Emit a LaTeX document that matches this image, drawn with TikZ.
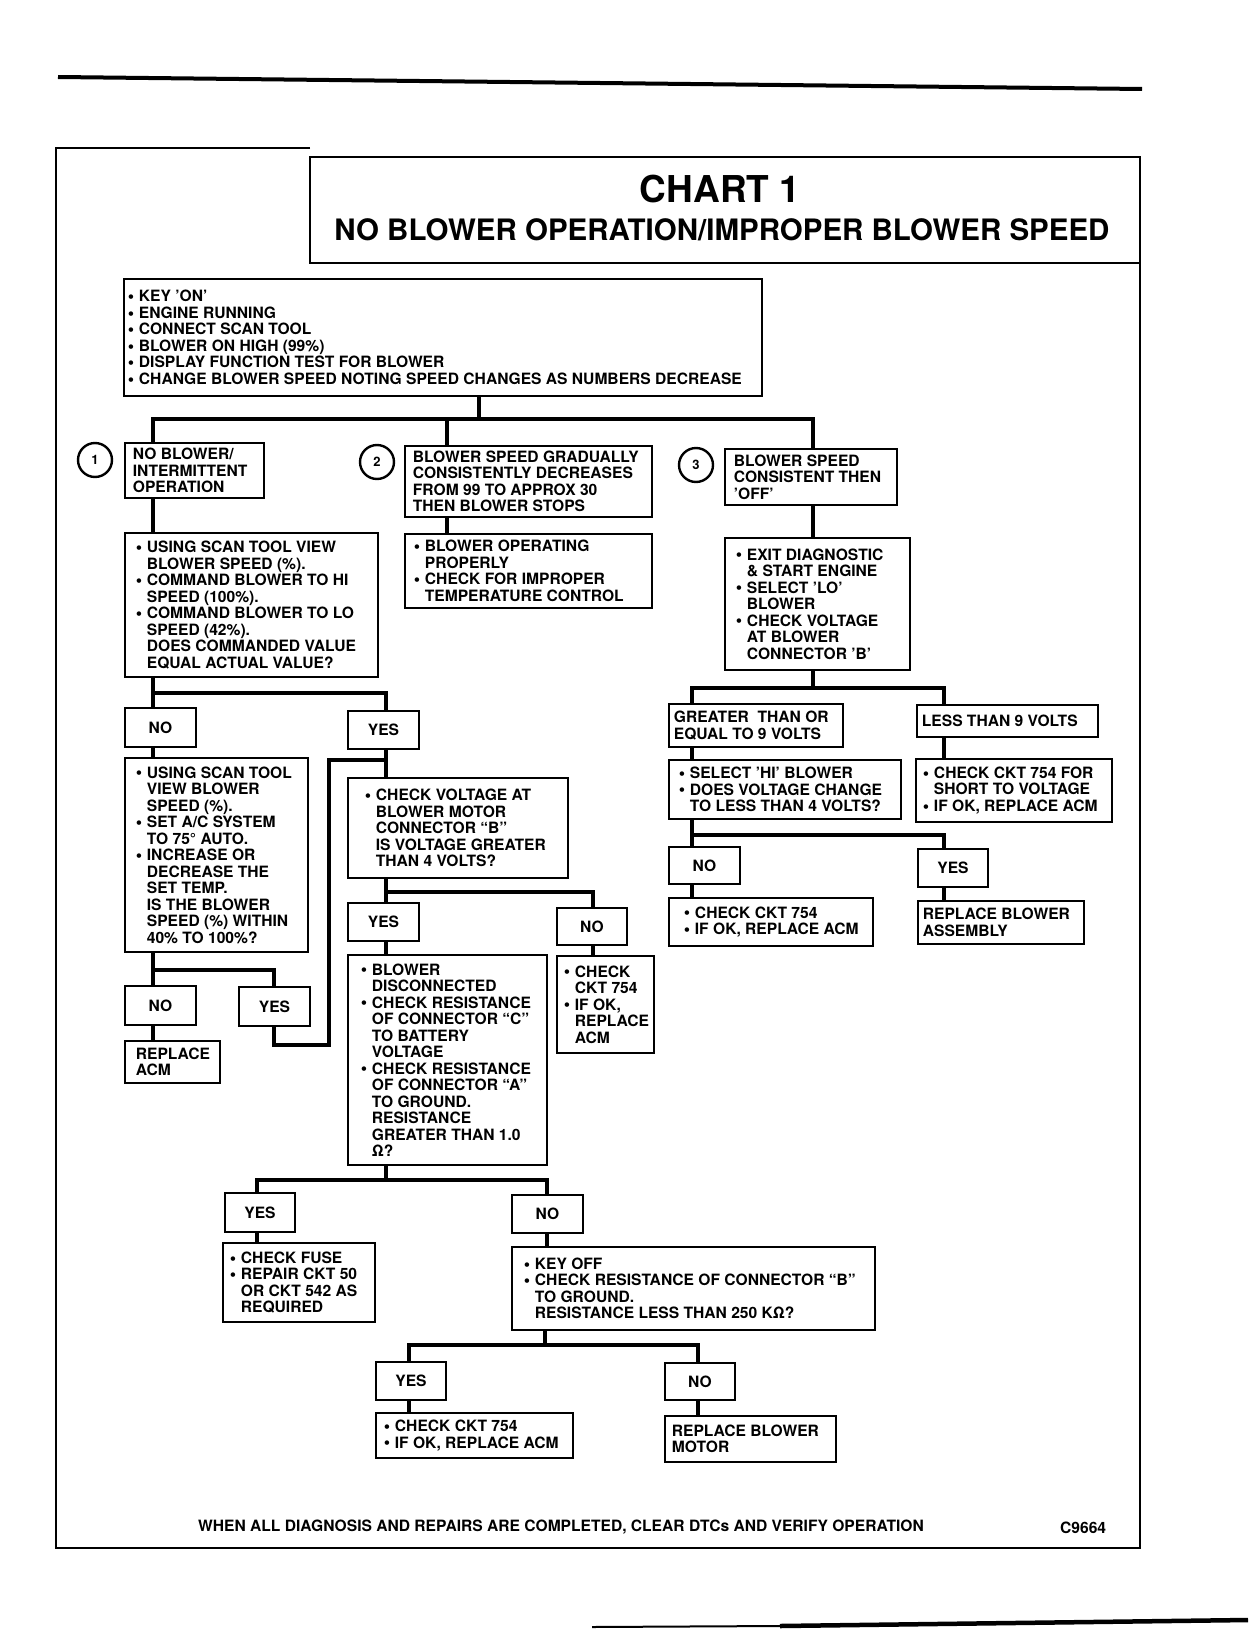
\documentclass[tikz,border=0pt]{standalone}
\usepackage{fontspec}
\setmainfont{TeX Gyre Heros}
\tikzset{
  boxst/.style={draw, line width=2.6pt, inner sep=0pt, rectangle},
  txt/.style={inner sep=0pt, align=left, font=\fontsize{15.6}{16.5}\selectfont\bfseries},
  conn/.style={line width=4.5pt, line join=miter},
  circ/.style={draw, circle, line width=2.4pt, minimum size=34pt, inner sep=0pt, font=\fontsize{13}{13}\selectfont\bfseries},
  frame/.style={line width=2pt},
}
\newcommand\tbox[7]{%
  \node[boxst, minimum width={(#4-#2)*1pt}, minimum height={(#5-#3)*1pt}] (#1) at ({(#2+#4)/2},{(#3+#5)/2}) {};
  \node[txt, anchor=west] (#1t) at ([xshift=#6pt]#1.west) {#7};}
\newcommand\ybox[6]{%
  \node[boxst, txt, align=center, minimum width={(#4-#2)*1pt}, minimum height={(#5-#3)*1pt}] (#1) at ({(#2+#4)/2},{(#3+#5)/2}) {#6};}
\newcommand\myb{\makebox[12pt][l]{\hspace*{1pt}\raisebox{-0.8pt}[0pt][0pt]{\fontsize{18}{16}\selectfont\textbullet}}}
\newcommand\myi{\hspace*{12pt}}
\begin{document}
\begin{tikzpicture}[x=1pt,y=-1pt]
\useasboundingbox (0,0) rectangle (1248,1632);
% page rules
\draw[line width=4pt] (58,77) -- (1142,89);
\draw[line width=2pt] (592,1627) -- (780,1626);
\draw[line width=4.5pt] (780,1626) -- (1248,1620);
% frame and title
\draw[frame] (310,148) -- (56,148) -- (56,1548) -- (1140,1548) -- (1140,157);
\draw[frame] (310,157) rectangle (1140,263);
\node[font=\fontsize{37}{37}\selectfont\bfseries, anchor=base, inner sep=0pt] (t1) at (720,202) {CHART 1};
\node[font=\fontsize{29.5}{29.5}\selectfont\bfseries, anchor=base, inner sep=0pt] (t2) at (722,240) {NO BLOWER OPERATION/IMPROPER BLOWER SPEED};
% boxes
\tbox{b1}{124}{279}{762}{396}{4}{\fontsize{15.6}{17.6}\selectfont\myb KEY 'ON'\\ \myb ENGINE RUNNING\\ \myb CONNECT SCAN TOOL\\ \myb BLOWER ON HIGH (99\%)\\ \myb DISPLAY FUNCTION TEST FOR BLOWER\\ \myb CHANGE BLOWER SPEED NOTING SPEED CHANGES AS NUMBERS DECREASE}
\node[circ] (c1) at (95,460) {1};
\node[circ] (c2) at (377,462) {2};
\node[circ] (c3) at (696,465) {3};
\tbox{n1}{125}{443}{264}{498}{9}{NO BLOWER/\\ INTERMITTENT\\ OPERATION}
\tbox{b2}{405}{446}{652}{517}{9}{BLOWER SPEED GRADUALLY\\ CONSISTENTLY DECREASES\\ FROM 99 TO APPROX 30\\ THEN BLOWER STOPS}
\tbox{b2b}{405}{534}{652}{608}{9}{\myb BLOWER OPERATING\\ \myi PROPERLY\\ \myb CHECK FOR IMPROPER\\ \myi TEMPERATURE CONTROL}
\tbox{b3}{725}{449}{897}{505}{10}{BLOWER SPEED\\ CONSISTENT THEN\\ 'OFF'}
\tbox{b3b}{725}{538}{910}{670}{11}{\myb EXIT DIAGNOSTIC\\ \myi \& START ENGINE\\ \myb SELECT 'LO'\\ \myi BLOWER\\ \myb CHECK VOLTAGE\\ \myi AT BLOWER\\ \myi CONNECTOR 'B'}
\tbox{sc1}{125}{533}{378}{677}{11}{\myb USING SCAN TOOL VIEW\\ \myi BLOWER SPEED (\%).\\ \myb COMMAND BLOWER TO HI\\ \myi SPEED (100\%).\\ \myb COMMAND BLOWER TO LO\\ \myi SPEED (42\%).\\ \myi DOES COMMANDED VALUE\\ \myi EQUAL ACTUAL VALUE?}
\ybox{no1}{125}{708}{196}{747}{NO}
\ybox{yes1}{348}{711}{419}{749}{YES}
\tbox{sc2}{125}{758}{308}{952}{11}{\myb USING SCAN TOOL\\ \myi VIEW BLOWER\\ \myi SPEED (\%).\\ \myb SET A/C SYSTEM\\ \myi TO 75° AUTO.\\ \myb INCREASE OR\\ \myi DECREASE THE\\ \myi SET TEMP.\\ \myi IS THE BLOWER\\ \myi SPEED (\%) WITHIN\\ \myi 40\% TO 100\%?}
\tbox{volt}{348}{778}{568}{878}{17}{\myb CHECK VOLTAGE AT\\ \myi BLOWER MOTOR\\ \myi CONNECTOR “B”\\ \myi IS VOLTAGE GREATER\\ \myi THAN 4 VOLTS?}
\ybox{yes2}{348}{903}{419}{941}{YES}
\ybox{no2}{557}{908}{627}{945}{NO}
\tbox{big}{348}{955}{547}{1165}{13}{\myb BLOWER\\ \myi DISCONNECTED\\ \myb CHECK RESISTANCE\\ \myi OF CONNECTOR “C”\\ \myi TO BATTERY\\ \myi VOLTAGE\\ \myb CHECK RESISTANCE\\ \myi OF CONNECTOR “A”\\ \myi TO GROUND.\\ \myi RESISTANCE\\ \myi GREATER THAN 1.0\\ \myi Ω?}
\tbox{ck1}{557}{956}{654}{1053}{7}{\myb CHECK\\ \myi CKT 754\\ \myb IF OK,\\ \myi REPLACE\\ \myi ACM}
\ybox{no3}{125}{986}{196}{1025}{NO}
\ybox{yes3}{239}{987}{310}{1026}{YES}
\tbox{racm}{125}{1041}{220}{1083}{12}{REPLACE\\ ACM}
\ybox{yes4}{225}{1193}{295}{1232}{YES}
\ybox{no4}{512}{1195}{583}{1233}{NO}
\tbox{fuse}{223}{1243}{375}{1322}{7}{\myb CHECK FUSE\\ \myb REPAIR CKT 50\\ \myi OR CKT 542 AS\\ \myi REQUIRED}
\tbox{koff}{512}{1247}{875}{1330}{12}{\myb KEY OFF\\ \myb CHECK RESISTANCE OF CONNECTOR “B”\\ \myi TO GROUND.\\ \myi RESISTANCE LESS THAN 250 KΩ?}
\ybox{yes5}{376}{1362}{446}{1400}{YES}
\ybox{no5}{665}{1363}{735}{1400}{NO}
\tbox{ck3}{376}{1413}{573}{1458}{8}{\myb CHECK CKT 754\\ \myb IF OK, REPLACE ACM}
\tbox{rmot}{665}{1416}{836}{1462}{8}{REPLACE BLOWER\\ MOTOR}
\tbox{gt9}{669}{704}{843}{747}{6}{GREATER\ \ THAN OR\\ EQUAL TO 9 VOLTS}
\tbox{lt9}{917}{705}{1098}{737}{6}{LESS THAN 9 VOLTS}
\tbox{selhi}{669}{760}{901}{819}{10}{\myb SELECT 'HI' BLOWER\\ \myb DOES VOLTAGE CHANGE\\ \myi TO LESS THAN 4 VOLTS?}
\tbox{short}{916}{759}{1112}{822}{7}{\myb CHECK CKT 754 FOR\\ \myi SHORT TO VOLTAGE\\ \myb IF OK, REPLACE ACM}
\ybox{no6}{669}{847}{740}{884}{NO}
\ybox{yes6}{918}{849}{988}{887}{YES}
\tbox{ck2}{669}{898}{873}{946}{15}{\myb CHECK CKT 754\\ \myb IF OK, REPLACE ACM}
\tbox{asm}{918}{901}{1084}{944}{6}{REPLACE BLOWER\\ ASSEMBLY}
% footer
\node[txt, anchor=base west] (foot) at (198,1531) {WHEN ALL DIAGNOSIS AND REPAIRS ARE COMPLETED, CLEAR DTCs AND VERIFY OPERATION};
\node[txt, anchor=base west] (code) at (1060,1533) {C9664};
% junction coordinates
\coordinate (h0) at (479,419); \coordinate (h0a) at (153,419); \coordinate (h0b) at (447,419); \coordinate (h0c) at (813,419);
\coordinate (h1a) at (153,693); \coordinate (h1b) at (386,693);
\coordinate (lp1) at (386,760); \coordinate (lp2) at (329,1045); \coordinate (lp3) at (274,1045);
\coordinate (h2a) at (386,892); \coordinate (h2b) at (593,892);
\coordinate (h3a) at (153,970); \coordinate (h3b) at (274,970);
\coordinate (h4) at (386,1180); \coordinate (h4a) at (257,1180); \coordinate (h4b) at (547,1180);
\coordinate (h5) at (545,1345); \coordinate (h5a) at (409,1345); \coordinate (h5b) at (698,1345);
\coordinate (h6) at (813,688); \coordinate (h6a) at (692,688); \coordinate (h6b) at (944,688);
\coordinate (h7a) at (692,835); \coordinate (h7b) at (944,835);
% connectors
\draw[conn] (b1.south -| h0) -- (h0);
\draw[conn] (n1.north -| h0a) -- (h0a) -- (h0c) -- (b3.north -| h0c);
\draw[conn] (h0b) -- (b2.north -| h0b);
\draw[conn] (n1.south -| h0a) -- (sc1.north -| h0a);
\draw[conn] (b2.south -| h0b) -- (b2b.north -| h0b);
\draw[conn] (b3.south -| h0c) -- (b3b.north -| h0c);
\draw[conn] (sc1.south -| h1a) -- (no1.north -| h1a);
\draw[conn] (h1a) -- (h1b) -- (yes1.north -| h1b);
\draw[conn] (no1.south -| h1a) -- (sc2.north -| h1a);
\draw[conn] (yes1.south -| h1b) -- (volt.north -| h1b);
\draw[conn] (lp1) -| (lp2) -- (lp3) -- (yes3.south -| lp3);
\draw[conn] (volt.south -| h2a) -- (yes2.north -| h2a);
\draw[conn] (h2a) -- (h2b) -- (no2.north -| h2b);
\draw[conn] (yes2.south -| h2a) -- (big.north -| h2a);
\draw[conn] (no2.south -| h2b) -- (ck1.north -| h2b);
\draw[conn] (sc2.south -| h3a) -- (no3.north -| h3a);
\draw[conn] (h3a) -- (h3b) -- (yes3.north -| h3b);
\draw[conn] (no3.south -| h3a) -- (racm.north -| h3a);
\draw[conn] (big.south -| h4) -- (h4);
\draw[conn] (yes4.north -| h4a) -- (h4a) -- (h4b) -- (no4.north -| h4b);
\draw[conn] (yes4.south -| h4a) -- (fuse.north -| h4a);
\draw[conn] (no4.south -| h4b) -- (koff.north -| h4b);
\draw[conn] (koff.south -| h5) -- (h5);
\draw[conn] (yes5.north -| h5a) -- (h5a) -- (h5b) -- (no5.north -| h5b);
\draw[conn] (yes5.south -| h5a) -- (ck3.north -| h5a);
\draw[conn] (no5.south -| h5b) -- (rmot.north -| h5b);
\draw[conn] (b3b.south -| h6) -- (h6);
\draw[conn] (gt9.north -| h6a) -- (h6a) -- (h6b) -- (lt9.north -| h6b);
\draw[conn] (gt9.south -| h6a) -- (selhi.north -| h6a);
\draw[conn] (lt9.south -| h6b) -- (short.north -| h6b);
\draw[conn] (selhi.south -| h7a) -- (no6.north -| h7a);
\draw[conn] (h7a) -- (h7b) -- (yes6.north -| h7b);
\draw[conn] (no6.south -| h7a) -- (ck2.north -| h7a);
\draw[conn] (yes6.south -| h7b) -- (asm.north -| h7b);
\end{tikzpicture}
\end{document}
